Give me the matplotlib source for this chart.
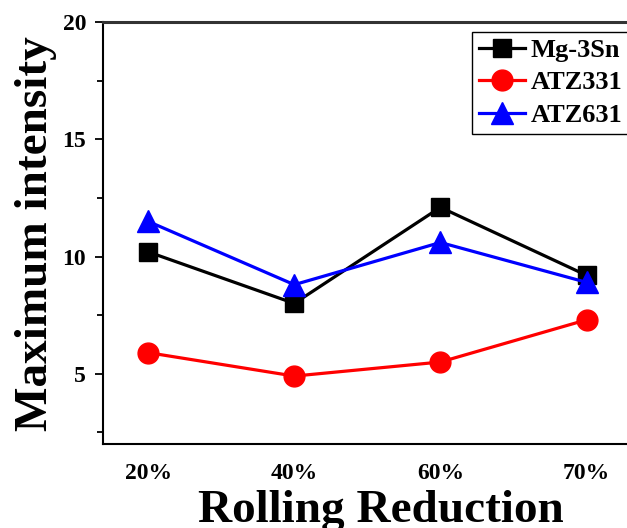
import numpy as np
import matplotlib.pyplot as plt
from matplotlib.ticker import MultipleLocator

plt.rcParams['font.family'] = ['Liberation Serif', 'DejaVu Serif']
plt.rcParams['font.weight'] = 'bold'

# data
categories = ['20%', '40%', '60%', '70%']
mg3sn = [10.2, 8.0, 12.1, 9.2]
atz331 = [5.9, 4.9, 5.5, 7.3]
atz631 = [11.5, 8.8, 10.6, 8.9]

x = np.arange(len(categories))

fig = plt.figure(figsize=(6.27, 5.28), dpi=100)
ax = fig.add_axes([0.164, 0.159, 0.86, 0.799])

ax.plot(x, mg3sn, color='black', marker='s', ms=13, lw=2.3, label='Mg-3Sn')
ax.plot(x, atz331, color='red', marker='o', ms=15, lw=2.3, label='ATZ331')
ax.plot(x, atz631, color='blue', marker='^', ms=16, lw=2.3, label='ATZ631')

ax.set_xlim(-0.31, 3.38)
ax.set_ylim(2, 20)
ax.set_xticks(x)
ax.set_xticklabels(categories)
ax.yaxis.set_major_locator(MultipleLocator(5))
ax.yaxis.set_minor_locator(MultipleLocator(2.5))
ax.tick_params(axis='x', length=0, pad=14, labelsize=17)
ax.tick_params(axis='y', which='major', direction='out', length=6, width=1.3, pad=6, labelsize=17)
ax.tick_params(axis='y', which='minor', direction='out', length=4, width=1.3)
for sp in ax.spines.values():
    sp.set_linewidth(1.5)
ax.spines['top'].set_linewidth(2.2)
ax.spines['top'].set_color('#333333')

ax.set_xlabel('Rolling Reduction', fontsize=34, fontweight='bold')
ax.xaxis.set_label_coords(0.515, -0.108, transform=ax.transAxes)
ax.xaxis.label.set_va('top')
ax.set_ylabel('Maximum intensity', fontsize=34, fontweight='bold', labelpad=4)

leg = ax.legend(loc='upper right', bbox_to_anchor=(0.985, 0.99), fontsize=19,
                frameon=True, fancybox=False, edgecolor='black', framealpha=1,
                handlelength=1.75, handletextpad=0.2, borderpad=0.25,
                labelspacing=0.35, borderaxespad=0.2)
leg.get_frame().set_linewidth(1.0)

fig.savefig('out.png', dpi=100)
